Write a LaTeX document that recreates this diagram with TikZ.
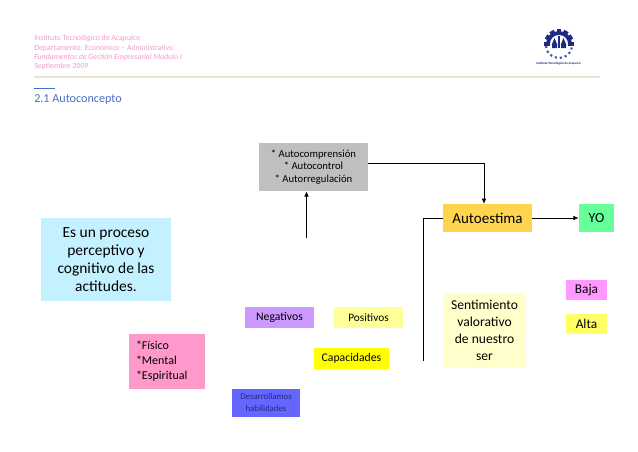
\documentclass[tikz,border=0pt]{standalone}
\usepackage{fontspec}
\setmainfont{Carlito}
\usetikzlibrary{arrows.meta}
\definecolor{hdrpink}{HTML}{F09CCB}
\definecolor{hdrblue}{HTML}{4A6FC0}
\definecolor{rulecol}{HTML}{E6E6D2}
\definecolor{navy}{HTML}{1F2A80}
\definecolor{cgray}{HTML}{BFBFBF}
\definecolor{cauto}{HTML}{FFD54F}
\definecolor{cyo}{HTML}{66FF99}
\definecolor{cbaja}{HTML}{FF99FF}
\definecolor{calta}{HTML}{FFFF66}
\definecolor{csent}{HTML}{FFFFCC}
\definecolor{cneg}{HTML}{CC99FF}
\definecolor{cpos}{HTML}{FFFF99}
\definecolor{ccap}{HTML}{FFFF00}
\definecolor{cfis}{HTML}{FF99CC}
\definecolor{cdes}{HTML}{6666FF}
\definecolor{cproc}{HTML}{C4F1FF}
\tikzset{
  box/.style={inner sep=0pt,align=center,text=black,font=\fontsize{#1}{#1}\selectfont},
  box/.default=8,
  hdr/.style={anchor=west,inner sep=0pt,text=hdrpink,font=\fontsize{5.85}{5.85}\selectfont},
  link/.style={draw=black,line width=0.75pt},
  tip/.style={-{Latex[length=4pt,width=3.6pt]}},
}
\begin{document}
\begin{tikzpicture}[x=0.75pt,y=-0.75pt]
\useasboundingbox (0,0) rectangle (638,451);
\fill[white] (0,0) rectangle (638,451);
% header
\node[hdr] (h1) at (34,38.5) {Instituto Tecnológico de Acapulco};
\node[hdr] (h2) at (34,48) {Departamento: Económico – Administrativo};
\node[hdr] (h3) at (34,57.5) {\itshape Fundamentos de Gestión Empresarial Modulo I};
\node[hdr] (h4) at (34,66.5) {Septiembre 2009};
\fill[rulecol] (34,76) rectangle (600,78);
\fill[hdrblue] (34,87.6) rectangle (54.5,88.6);
\node[anchor=west,inner sep=0pt,text=hdrblue,font=\fontsize{9.1}{9.1}\selectfont] (title) at (34,100) {2.1 Autoconcepto};
% logo
\begin{scope}[shift={(559,44)}]
  \foreach \a in {-90,-60,...,90}{\fill[navy,rotate=\a] (-2.4,-15) rectangle (2.4,-9);}
  \fill[navy] (-13,0) arc[start angle=180,end angle=360,x radius=13,y radius=13] -- cycle;
  \fill[white] (-9,0) arc[start angle=180,end angle=360,x radius=9,y radius=9] -- cycle;
  \fill[navy] (-1.3,-8) rectangle (1.3,4);
  \fill[navy] (-7,0) -- (-4.5,-6) -- (-2,0) -- (-2,4) -- (-7,4) -- cycle;
  \fill[navy] (7,0) -- (4.5,-6) -- (2,0) -- (2,4) -- (7,4) -- cycle;
  \draw[navy!80,line width=1.6pt,dash pattern=on 1.6pt off 2.2pt] (-13,2) arc[start angle=180,end angle=0,x radius=13,y radius=12];
\end{scope}
\node[inner sep=0pt,text=navy,font=\fontsize{2.4}{2.4}\selectfont\bfseries] (logotext) at (558.5,64) {Instituto Tecnológico de Acapulco};
% boxes
\node[box=8,fill=cgray,minimum width=82pt,minimum height=36pt] (gray) at (313.5,167) {* Autocomprensión\\[1.4pt]* Autocontrol\\[1.4pt]* Autorregulación};
\node[box=11.3,fill=cauto,minimum width=66.75pt,minimum height=21pt] (auto) at (487.5,218) {Autoestima};
\node[box=10.5,fill=cyo,minimum width=26.25pt,minimum height=21pt] (yo) at (596.5,218) {YO};
\node[box=10,fill=cbaja,minimum width=30.75pt,minimum height=15pt] (baja) at (586.5,290) {Baja};
\node[box=10,fill=calta,minimum width=30.75pt,minimum height=15pt] (alta) at (586.5,324) {Alta};
\node[box=10.2,fill=csent,minimum width=62.25pt,minimum height=56.25pt] (sent) at (484.5,330.5) {Sentimiento\\[2.55pt]valorativo\\[2.55pt]de nuestro\\[2.55pt]ser};
\node[box=8.8,fill=cneg,minimum width=51.75pt,minimum height=15.75pt] (neg) at (279.5,317.5) {Negativos};
\node[box=8.5,fill=cpos,minimum width=51.75pt,minimum height=15.75pt] (pos) at (368.5,317.5) {Positivos};
\node[box=8.8,fill=ccap,minimum width=56.25pt,minimum height=15.75pt] (cap) at (351.5,358.5) {Capacidades};
\node[box=9,fill=cfis,inner xsep=5.25pt,text width=46.5pt,minimum height=41.25pt,align=left] (fis) at (167,361.5) {*Físico\\[2.25pt]*Mental\\[2.25pt]*Espiritual};
\node[box=6.6,fill=cdes,text=navy,minimum width=51pt,minimum height=21pt] (des) at (266,402.5) {Desarrollamos\\[2.4pt]habilidades};
\node[box=11.6,fill=cproc,minimum width=97.5pt,minimum height=62.25pt] (proc) at (106,259.5) {Es un proceso\\[1.9pt]perceptivo y\\[1.9pt]cognitivo de las\\[1.9pt]actitudes.};
% free ends
\coordinate (upstart) at (306.5,238);
\coordinate (downend) at (423,361);
% connectors
\draw[link,tip] (upstart) -- (upstart |- gray.south);
\draw[link,tip] (gray.east |- 0,163) -- (484,163) -- (484,204);
\draw[link] (auto.west) -- (downend |- auto.west) -- (downend);
\draw[link,tip] (auto.east) -- (yo.west);
\end{tikzpicture}
\end{document}
